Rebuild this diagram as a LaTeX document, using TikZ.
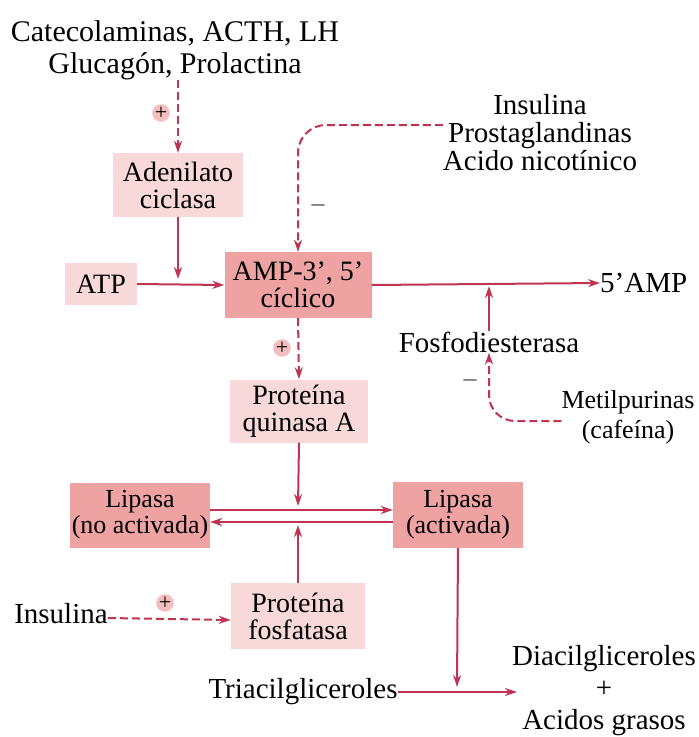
\documentclass[tikz,border=0pt]{standalone}
\usepackage{fontspec}
\setmainfont{Liberation Serif}
\usetikzlibrary{arrows.meta,positioning,calc}
\definecolor{linea}{HTML}{C03352}
\definecolor{rosa}{HTML}{F8D8D8}
\definecolor{salmon}{HTML}{EEA2A2}

\begin{document}
\begin{tikzpicture}[x=1pt, y=-1pt,
  clara/.style={rectangle, fill=rosa, align=center, inner sep=0pt,
                font=\fontsize{28}{27}\selectfont},
  oscura/.style={clara, fill=salmon},
  txt/.style={align=center, inner sep=0pt, font=\fontsize{29}{30}\selectfont},
  arr/.style={-{Stealth[length=12pt, width=8pt]}, line width=2pt, linea},
  rot/.style={arr, dash pattern=on 8pt off 4pt},
  signo/.style={circle, fill=salmon!70, inner sep=0pt, minimum size=16pt,
                font=\fontsize{22}{22}\selectfont},
  menos/.style={inner sep=1pt, text=black!70, font=\fontsize{26}{26}\selectfont}
]
\useasboundingbox (0,0) rectangle (699,737);

\node[txt, font=\fontsize{30}{32}\selectfont] (hormonas) at (175,50)
  {Catecolaminas, ACTH, LH\\Glucagón, Prolactina};
\node[clara, minimum width=130, minimum height=64] (adenilato) at (178,185)
  {Adenilato\\ciclasa};
\node[clara, minimum width=72, minimum height=42, font=\fontsize{28}{28}\selectfont]
  (atp) at (101,284) {ATP};
\node[oscura, minimum width=147, minimum height=66] (amp) at (298,285)
  {AMP-3’, 5’\\cíclico};
\node[txt, font=\fontsize{29}{28}\selectfont] (inhib) at (540,133)
  {Insulina\\Prostaglandinas\\Acido nicotínico};
\node[txt, anchor=west] (amp5) at (600,283) {5’AMP};
\node[txt] (fosfo) at (489,342) {Fosfodiesterasa};
\node[txt, font=\fontsize{26}{30}\selectfont] (metil) at (628,417)
  {Metilpurinas\\(cafeína)};
\node[clara, minimum width=138, minimum height=63] (pka) at (299,411)
  {Proteína\\quinasa A};
\node[oscura, minimum width=140, minimum height=65, font=\fontsize{26}{26}\selectfont]
  (lipno) at (140,515) {Lipasa\\(no activada)};
\node[oscura, minimum width=130, minimum height=66, font=\fontsize{26}{26}\selectfont]
  (lipact) at (458,515) {Lipasa\\(activada)};
\node[clara, minimum width=134, minimum height=66] (ppf) at (298,616)
  {Proteína\\fosfatasa};
\node[txt] (insulina) at (61,614) {Insulina};
\node[txt] (triacil) at (303,692) {Triacilgliceroles};
\node[txt, font=\fontsize{29}{32}\selectfont] (productos) at (604,691)
  {Diacilgliceroles\\+\\Acidos grasos};

\coordinate (catal) at (178,279);
\coordinate (fd) at (489,286);
\coordinate (pk) at (298,506);
\coordinate (pp) at (298,525);
\coordinate (lg) at (457,687);
\coordinate (hid) at (517,692);

\draw[rot] (hormonas.south -| adenilato) -- (adenilato.north);
\node[signo] (s1) at (161,113) {+};
\draw[arr] (adenilato.south) -- (catal);
\draw[arr] (atp.east) -- (amp.west);
\draw[rot, rounded corners=28pt] ([yshift=8pt]inhib.west) -| (amp.north);
\node[menos] (m1) at (318,208) {–};
\draw[arr] (amp.east) -- (amp5.west);
\draw[arr] (fosfo.north) -- (fd);
\draw[rot, rounded corners=26pt] ([yshift=-4pt]metil.west) -| (fosfo.south);
\node[menos] (m2) at (470,383) {–};
\draw[rot] (amp.south) -- (pka.north);
\node[signo] (s2) at (282,348) {+};
\draw[arr] (pka.south) -- (pk);
\draw[arr] ([yshift=5pt]lipno.east) -- ([yshift=5pt]lipact.west);
\draw[arr] ([yshift=-7pt]lipact.west) -- ([yshift=-7pt]lipno.east);
\draw[arr] (ppf.north) -- (pp);
\draw[rot] ([yshift=-4pt]insulina.east) -- ([yshift=-4pt]ppf.west);
\node[signo] (s3) at (165,603) {+};
\draw[arr] (lipact.south) -- (lg);
\draw[arr] (triacil.east) -- (hid);
\end{tikzpicture}
\end{document}
